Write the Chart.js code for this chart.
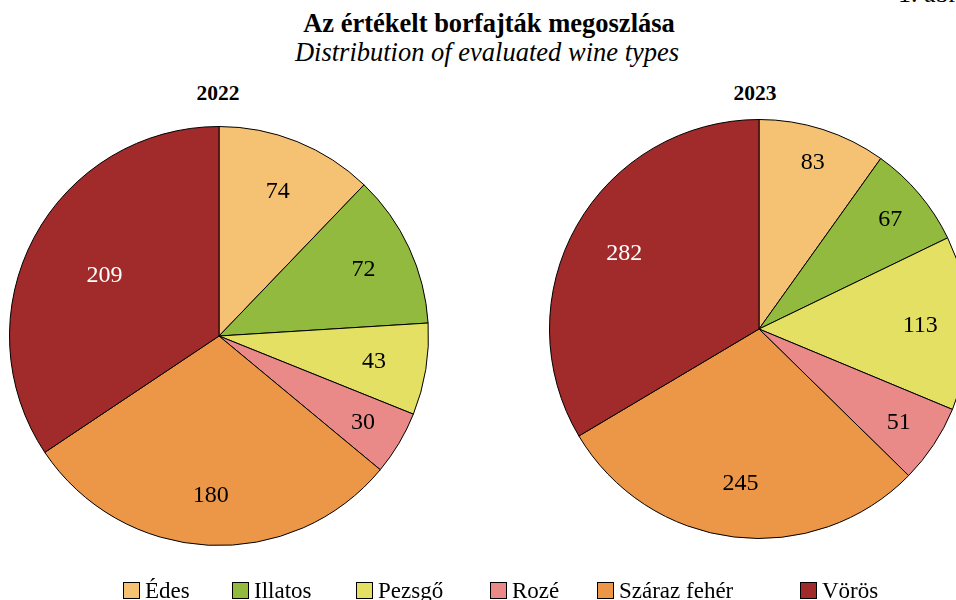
<!DOCTYPE html>
<html>
<head>
<meta charset="utf-8">
<script src="https://cdn.jsdelivr.net/npm/chart.js@4.4.1/dist/chart.umd.min.js"></script>
<style>
    html, body { margin: 0; padding: 0; background: #fff; }
    #wrap { position: relative; width: 956px; height: 600px; overflow: hidden; font-family: 'Liberation Serif', 'Times New Roman', serif; color: #000; }
    .txt { position: absolute; white-space: nowrap; line-height: 1; }
    #title { left: 0; width: 978px; top: 10px; text-align: center; font-weight: bold; font-size: 26.5px; }
    #subtitle { left: 0; width: 974px; top: 39px; text-align: center; font-style: italic; font-size: 26.5px; }
    .year { font-weight: bold; font-size: 21.5px; top: 83px; width: 100px; text-align: center; }
    #fig { left: 898px; top: -19px; font-size: 26px; }
    .pie { position: absolute; }
    #legend { position: absolute; left: 0; top: 0; width: 956px; height: 600px; font-size: 23px; }
    .box { position: absolute; top: 582px; width: 15px; height: 15px; border: 1px solid #000; }
    .lbl { position: absolute; top: 579px; line-height: 1; white-space: nowrap; }
</style>
</head>
<body>
<div id="wrap">
    <div id="fig" class="txt">1. ábra</div>
    <div id="title" class="txt">Az értékelt borfajták megoszlása</div>
    <div id="subtitle" class="txt">Distribution of evaluated wine types</div>
    <div class="txt year" style="left:168px">2022</div>
    <div class="txt year" style="left:705px">2023</div>
    <div class="pie" style="left:9px; top:126px; width:420px; height:420px"><canvas id="pie2022"></canvas></div>
    <div class="pie" style="left:549px; top:119px; width:420px; height:420px"><canvas id="pie2023"></canvas></div>
    <div id="legend"></div>
</div>
<script>
const categories = ['Édes', 'Illatos', 'Pezsgő', 'Rozé', 'Száraz fehér', 'Vörös'];
const values2022 = [74, 72, 43, 30, 180, 209];
const values2023 = [83, 67, 113, 51, 245, 282];
const colors = ['#F5C173', '#92BA3E', '#E4E063', '#E98A88', '#EC9748', '#A12B2B'];
const labelColors = ['#000', '#000', '#000', '#000', '#000', '#fff'];

// radial position of each value label (fraction of radius)
const labelRadius2022 = [0.75, 0.76, 0.75, 0.80, 0.76, 0.62];
const labelRadius2023 = [0.84, 0.82, 0.77, 0.80, 0.74, 0.74];

const legendX = [123, 232, 356, 490, 597, 800];
const serif = "'Liberation Serif', 'Times New Roman', serif";

// Draw value labels inside slices
const sliceLabels = {
    id: 'sliceLabels',
    afterDatasetsDraw(chart, args, opts) {
        const ctx = chart.ctx;
        const meta = chart.getDatasetMeta(0);
        const data = chart.data.datasets[0].data;
        ctx.save();
        ctx.font = '24px ' + serif;
        ctx.textAlign = 'center';
        ctx.textBaseline = 'middle';
        meta.data.forEach((arc, i) => {
            const mid = (arc.startAngle + arc.endAngle) / 2;
            const r = arc.outerRadius * opts.radius[i];
            ctx.fillStyle = labelColors[i];
            ctx.fillText(String(data[i]), arc.x + Math.cos(mid) * r, arc.y + Math.sin(mid) * r + 1);
        });
        ctx.restore();
    }
};

function makePie(id, values, radius) {
    const ctx = document.getElementById(id).getContext('2d');
    return new Chart(ctx, {
        type: 'pie',
        data: {
            labels: categories,
            datasets: [{
                data: values,
                backgroundColor: colors,
                borderColor: '#000',
                borderWidth: 1
            }]
        },
        options: {
            responsive: true,
            maintainAspectRatio: false,
            animation: false,
            layout: { padding: 0 },
            plugins: {
                legend: { display: false },
                tooltip: { enabled: false },
                sliceLabels: { radius: radius }
            }
        },
        plugins: [sliceLabels]
    });
}

function buildLegend() {
    const legend = document.getElementById('legend');
    categories.forEach((name, i) => {
        const box = document.createElement('span');
        box.className = 'box';
        box.style.left = legendX[i] + 'px';
        box.style.background = colors[i];
        legend.appendChild(box);
        const lbl = document.createElement('span');
        lbl.className = 'lbl';
        lbl.style.left = (legendX[i] + 22) + 'px';
        lbl.textContent = name;
        legend.appendChild(lbl);
    });
}

document.addEventListener('DOMContentLoaded', () => {
    makePie('pie2022', values2022, labelRadius2022);
    makePie('pie2023', values2023, labelRadius2023);
    buildLegend();
});
</script>
</body>
</html>
